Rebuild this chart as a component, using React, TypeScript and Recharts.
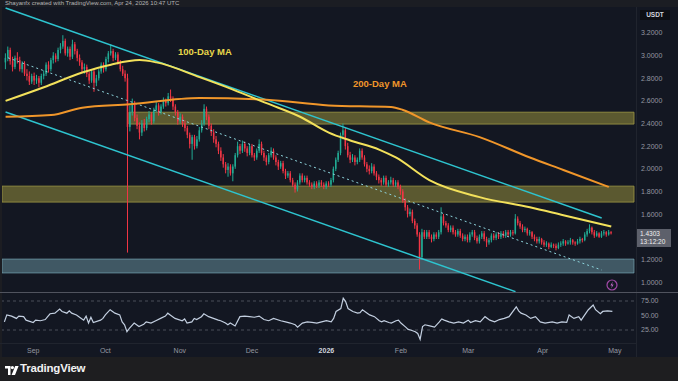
import React from "react";
import {
  ComposedChart, Bar, Line, XAxis, YAxis,
  ReferenceArea, ReferenceLine
} from "recharts";

// daily candles [open, high, low, close], first one is day -12 (day 0 = Sep 1)
const FIRST_DAY = -12;
const DAY_MIN = -13;
const DAY_MAX = 250;

const aug = [
  [2.94, 3.02, 2.88, 2.98], [2.98, 3.08, 2.95, 3.05], [3.05, 3.07, 2.92, 2.95], [2.95, 2.99, 2.86, 2.90],
  [2.90, 3.00, 2.88, 2.98], [2.98, 3.03, 2.93, 2.96], [2.96, 2.99, 2.86, 2.88], [2.88, 2.95, 2.85, 2.93],
  [2.93, 2.95, 2.82, 2.84], [2.84, 2.88, 2.78, 2.82], [2.82, 2.86, 2.74, 2.77], [2.77, 2.84, 2.75, 2.82],
];
const sep = [
  [2.82, 2.85, 2.74, 2.78], [2.78, 2.83, 2.75, 2.80], [2.80, 2.82, 2.72, 2.76], [2.76, 2.84, 2.74, 2.82],
  [2.82, 2.87, 2.79, 2.84], [2.84, 2.94, 2.82, 2.92], [2.92, 2.95, 2.85, 2.88], [2.88, 2.98, 2.86, 2.96],
  [2.96, 3.03, 2.93, 3.00], [3.00, 3.02, 2.94, 2.97], [2.97, 3.07, 2.95, 3.05], [3.05, 3.11, 3.02, 3.08],
  [3.08, 3.18, 3.06, 3.13], [3.13, 3.15, 3.00, 3.02], [3.02, 3.08, 2.99, 3.06], [3.06, 3.08, 2.96, 2.99],
  [2.99, 3.14, 2.97, 3.10], [3.10, 3.12, 3.01, 3.04], [3.04, 3.06, 2.95, 2.98], [2.98, 3.01, 2.91, 2.94],
  [2.94, 2.96, 2.85, 2.88], [2.88, 2.93, 2.84, 2.90], [2.90, 2.92, 2.81, 2.84], [2.84, 2.86, 2.75, 2.78],
  [2.78, 2.88, 2.76, 2.86], [2.86, 2.88, 2.68, 2.76], [2.76, 2.83, 2.73, 2.80], [2.80, 2.88, 2.78, 2.86],
  [2.86, 2.94, 2.84, 2.92], [2.92, 2.94, 2.85, 2.88],
];
const oct = [
  [2.88, 2.99, 2.86, 2.97], [2.97, 3.04, 2.94, 3.02], [3.02, 3.10, 3.00, 3.04], [3.04, 3.06, 2.95, 2.98],
  [2.98, 3.03, 2.96, 3.01], [3.01, 3.03, 2.92, 2.94], [2.94, 2.96, 2.86, 2.88], [2.88, 2.91, 2.82, 2.84],
  [2.84, 2.87, 2.77, 2.80], [2.80, 2.84, 1.26, 2.37], [2.37, 2.56, 2.33, 2.50], [2.50, 2.62, 2.47, 2.58],
  [2.58, 2.60, 2.42, 2.45], [2.45, 2.48, 2.35, 2.38], [2.38, 2.41, 2.26, 2.32], [2.32, 2.43, 2.29, 2.40],
  [2.40, 2.44, 2.33, 2.36], [2.36, 2.46, 2.34, 2.44], [2.44, 2.51, 2.41, 2.48], [2.48, 2.50, 2.39, 2.42],
  [2.42, 2.54, 2.40, 2.52], [2.52, 2.59, 2.50, 2.56], [2.56, 2.58, 2.47, 2.50], [2.50, 2.57, 2.48, 2.55],
  [2.55, 2.63, 2.53, 2.60], [2.60, 2.62, 2.55, 2.58], [2.58, 2.67, 2.56, 2.64], [2.64, 2.70, 2.59, 2.62],
  [2.62, 2.64, 2.52, 2.55], [2.55, 2.57, 2.47, 2.50], [2.50, 2.52, 2.39, 2.42],
];
const nov = [
  [2.42, 2.49, 2.40, 2.46], [2.46, 2.48, 2.37, 2.40], [2.40, 2.43, 2.33, 2.36], [2.36, 2.38, 2.27, 2.30],
  [2.30, 2.32, 2.18, 2.22], [2.22, 2.30, 2.08, 2.28], [2.28, 2.30, 2.17, 2.20], [2.20, 2.29, 2.18, 2.26],
  [2.26, 2.37, 2.24, 2.34], [2.34, 2.43, 2.32, 2.40], [2.40, 2.57, 2.38, 2.53], [2.53, 2.55, 2.43, 2.46],
  [2.46, 2.48, 2.35, 2.38], [2.38, 2.40, 2.29, 2.32], [2.32, 2.35, 2.23, 2.26], [2.26, 2.29, 2.19, 2.22],
  [2.22, 2.24, 2.13, 2.16], [2.16, 2.19, 2.07, 2.10], [2.10, 2.13, 2.01, 2.04], [2.04, 2.06, 1.96, 1.99],
  [1.99, 2.05, 1.93, 2.02], [2.02, 2.04, 1.94, 1.96], [1.96, 2.04, 1.89, 2.02], [2.02, 2.14, 2.00, 2.12],
  [2.12, 2.24, 2.10, 2.20], [2.20, 2.22, 2.13, 2.16], [2.16, 2.25, 2.14, 2.22], [2.22, 2.24, 2.15, 2.18],
  [2.18, 2.20, 2.11, 2.14], [2.14, 2.22, 2.12, 2.20],
];
const dec = [
  [2.20, 2.22, 2.10, 2.12], [2.12, 2.14, 2.07, 2.10], [2.10, 2.18, 2.08, 2.16], [2.16, 2.26, 2.14, 2.22],
  [2.22, 2.24, 2.12, 2.14], [2.14, 2.16, 2.07, 2.10], [2.10, 2.12, 2.03, 2.06], [2.06, 2.14, 2.04, 2.12],
  [2.12, 2.19, 2.10, 2.16], [2.16, 2.18, 2.08, 2.10], [2.10, 2.12, 2.03, 2.06], [2.06, 2.08, 1.99, 2.02],
  [2.02, 2.07, 2.00, 2.05], [2.05, 2.07, 1.96, 1.98], [1.98, 2.00, 1.91, 1.94], [1.94, 1.98, 1.92, 1.96],
  [1.96, 1.98, 1.88, 1.90], [1.90, 1.92, 1.84, 1.86], [1.86, 1.88, 1.79, 1.82], [1.82, 1.90, 1.80, 1.88],
  [1.88, 1.96, 1.86, 1.94], [1.94, 1.96, 1.88, 1.90], [1.90, 1.94, 1.88, 1.92], [1.92, 1.94, 1.86, 1.88],
  [1.88, 1.90, 1.84, 1.86], [1.86, 1.88, 1.82, 1.84], [1.84, 1.89, 1.82, 1.87], [1.87, 1.89, 1.83, 1.85],
  [1.85, 1.90, 1.83, 1.88], [1.88, 1.90, 1.84, 1.86], [1.86, 1.88, 1.82, 1.84],
];
const jan = [
  [1.84, 1.89, 1.82, 1.87], [1.87, 1.89, 1.84, 1.86], [1.86, 1.92, 1.84, 1.90], [1.90, 2.02, 1.88, 2.00],
  [2.00, 2.10, 1.98, 2.08], [2.08, 2.16, 2.06, 2.14], [2.14, 2.32, 2.12, 2.30], [2.30, 2.40, 2.26, 2.34],
  [2.34, 2.36, 2.17, 2.20], [2.20, 2.23, 2.10, 2.12], [2.12, 2.15, 2.05, 2.08], [2.08, 2.13, 2.06, 2.10],
  [2.10, 2.12, 2.03, 2.06], [2.06, 2.10, 2.04, 2.08], [2.08, 2.18, 2.06, 2.16], [2.16, 2.18, 2.08, 2.10],
  [2.10, 2.12, 2.02, 2.04], [2.04, 2.06, 1.97, 2.00], [2.00, 2.03, 1.95, 1.98], [1.98, 2.05, 1.96, 2.02],
  [2.02, 2.04, 1.94, 1.96], [1.96, 1.98, 1.90, 1.93], [1.93, 1.95, 1.87, 1.90], [1.90, 1.92, 1.85, 1.88],
  [1.88, 1.94, 1.86, 1.92], [1.92, 1.94, 1.84, 1.86], [1.86, 1.90, 1.84, 1.88], [1.88, 1.93, 1.86, 1.90],
  [1.90, 1.92, 1.84, 1.86], [1.86, 1.90, 1.84, 1.88], [1.88, 1.90, 1.82, 1.84],
];
const feb = [
  [1.84, 1.86, 1.77, 1.80], [1.80, 1.82, 1.70, 1.72], [1.72, 1.74, 1.63, 1.66], [1.66, 1.68, 1.57, 1.60],
  [1.60, 1.65, 1.58, 1.62], [1.62, 1.64, 1.52, 1.54], [1.54, 1.56, 1.47, 1.50], [1.50, 1.52, 1.40, 1.42],
  [1.42, 1.44, 1.11, 1.22], [1.22, 1.47, 1.20, 1.44], [1.44, 1.46, 1.38, 1.40], [1.40, 1.46, 1.38, 1.44],
  [1.44, 1.46, 1.38, 1.40], [1.40, 1.42, 1.35, 1.38], [1.38, 1.44, 1.36, 1.42], [1.42, 1.44, 1.38, 1.40],
  [1.40, 1.46, 1.38, 1.44], [1.44, 1.66, 1.42, 1.58], [1.58, 1.60, 1.50, 1.52], [1.52, 1.54, 1.48, 1.50],
  [1.50, 1.52, 1.44, 1.46], [1.46, 1.50, 1.44, 1.48], [1.48, 1.50, 1.42, 1.44], [1.44, 1.46, 1.40, 1.42],
  [1.42, 1.47, 1.40, 1.45], [1.45, 1.47, 1.39, 1.41], [1.41, 1.43, 1.36, 1.38], [1.38, 1.42, 1.36, 1.40],
];
const mar = [
  [1.40, 1.42, 1.35, 1.37], [1.37, 1.44, 1.35, 1.42], [1.42, 1.46, 1.40, 1.44], [1.44, 1.46, 1.37, 1.39],
  [1.39, 1.41, 1.34, 1.36], [1.36, 1.42, 1.34, 1.40], [1.40, 1.45, 1.38, 1.43], [1.43, 1.45, 1.36, 1.38],
  [1.38, 1.40, 1.31, 1.35], [1.35, 1.39, 1.33, 1.37], [1.37, 1.43, 1.35, 1.41], [1.41, 1.43, 1.37, 1.39],
  [1.39, 1.44, 1.37, 1.42], [1.42, 1.44, 1.38, 1.40], [1.40, 1.45, 1.38, 1.43], [1.43, 1.45, 1.39, 1.41],
  [1.41, 1.46, 1.39, 1.44], [1.44, 1.46, 1.40, 1.42], [1.42, 1.46, 1.40, 1.44], [1.44, 1.46, 1.41, 1.43],
  [1.43, 1.60, 1.42, 1.56], [1.56, 1.58, 1.50, 1.52], [1.52, 1.54, 1.47, 1.49], [1.49, 1.51, 1.44, 1.46],
  [1.46, 1.49, 1.44, 1.47], [1.47, 1.48, 1.41, 1.43], [1.43, 1.46, 1.41, 1.44], [1.44, 1.45, 1.38, 1.40],
  [1.40, 1.42, 1.36, 1.38], [1.38, 1.40, 1.34, 1.36], [1.36, 1.40, 1.34, 1.38],
];
const apr = [
  [1.38, 1.39, 1.33, 1.35], [1.35, 1.37, 1.31, 1.33], [1.33, 1.36, 1.31, 1.34], [1.34, 1.35, 1.29, 1.31],
  [1.31, 1.35, 1.30, 1.33], [1.33, 1.34, 1.30, 1.32], [1.32, 1.34, 1.28, 1.30], [1.30, 1.35, 1.29, 1.33],
  [1.33, 1.36, 1.31, 1.34], [1.34, 1.38, 1.32, 1.36], [1.36, 1.37, 1.32, 1.34], [1.34, 1.37, 1.33, 1.35],
  [1.35, 1.39, 1.33, 1.37], [1.37, 1.38, 1.33, 1.35], [1.35, 1.36, 1.32, 1.34], [1.34, 1.38, 1.33, 1.36],
  [1.36, 1.40, 1.34, 1.38], [1.38, 1.39, 1.35, 1.37], [1.37, 1.44, 1.36, 1.42], [1.42, 1.47, 1.40, 1.45],
  [1.45, 1.51, 1.43, 1.48], [1.48, 1.49, 1.42, 1.44], [1.44, 1.46, 1.39, 1.41], [1.41, 1.45, 1.40, 1.43],
  [1.43, 1.44, 1.39, 1.40], [1.40, 1.45, 1.39, 1.43], [1.43, 1.46, 1.41, 1.44], [1.44, 1.45, 1.40, 1.42],
  [1.42, 1.46, 1.41, 1.44], [1.44, 1.45, 1.42, 1.4303],
];

// moving averages: [day, value]
const ma100Pts = [
  [-12, 2.6], [4, 2.72], [20, 2.85], [32, 2.92], [44, 2.96], [51, 2.94], [69, 2.81], [83, 2.7],
  [97, 2.58], [111, 2.46], [123, 2.32], [132, 2.25], [144, 2.17], [151, 2.1], [165, 1.9],
  [186, 1.75], [207, 1.66], [221, 1.59], [241, 1.49],
];
const ma200Pts = [
  [-12, 2.46], [7, 2.475], [20, 2.54], [40, 2.57], [69, 2.625], [97, 2.61], [123, 2.56],
  [149, 2.546], [154, 2.52], [165, 2.41], [186, 2.28], [207, 2.1], [221, 1.99], [240, 1.84],
];

// RSI(14): [day, value]
const rsiPts = [
  [-12, 39], [-11, 51], [-9, 49], [-7, 45], [-6, 49], [-4, 48], [-3, 42], [0, 38], [1, 42], [3, 41],
  [5, 43], [6, 48], [7, 53], [9, 54], [11, 61], [12, 57], [14, 54], [15, 58], [16, 54], [18, 51],
  [20, 45], [21, 42], [22, 49], [23, 37], [24, 47], [25, 38], [28, 42], [29, 45], [30, 51], [32, 60],
  [33, 57], [34, 54], [36, 51], [37, 39], [38, 34], [39, 22], [40, 28], [42, 37], [44, 31], [46, 35],
  [47, 39], [49, 37], [51, 41], [53, 45], [55, 49], [56, 54], [57, 51], [59, 45], [62, 41], [63, 44],
  [64, 37], [66, 39], [67, 45], [68, 43], [70, 48], [71, 53], [73, 48], [75, 45], [77, 42], [78, 41],
  [80, 37], [81, 34], [82, 37], [84, 32], [86, 48], [88, 49], [90, 48], [92, 47], [94, 49], [96, 43],
  [98, 41], [100, 45], [103, 41], [105, 39], [107, 37], [109, 34], [110, 30], [112, 37], [114, 39],
  [116, 38], [118, 37], [120, 39], [122, 41], [124, 39], [125, 45], [126, 57], [128, 62], [129, 80],
  [130, 74], [131, 62], [133, 57], [135, 54], [136, 55], [137, 60], [139, 54], [140, 51], [142, 48],
  [144, 41], [145, 39], [146, 41], [148, 38], [149, 37], [151, 41], [152, 42], [153, 37], [155, 30],
  [156, 26], [157, 25], [159, 22], [160, 19], [161, 9], [162, 31], [163, 34], [165, 32], [167, 30],
  [169, 39], [170, 44], [171, 42], [173, 39], [175, 37], [177, 39], [179, 37], [181, 42], [182, 38],
  [184, 41], [186, 39], [188, 48], [190, 42], [192, 39], [194, 43], [196, 45], [198, 48], [201, 65],
  [202, 58], [203, 54], [205, 51], [207, 45], [209, 48], [211, 39], [213, 37], [216, 39], [218, 37],
  [220, 39], [222, 38], [223, 51], [225, 45], [227, 48], [228, 42], [230, 54], [231, 60], [233, 68],
  [234, 60], [236, 53], [237, 57], [239, 58], [241, 57],
];

// 1.4000 sits under the last-price label, so it is not drawn
const priceTicks = [1, 1.2, 1.6, 1.8, 2, 2.2, 2.4, 2.6, 2.8, 3, 3.2];
const rsiTicks = [25, 50, 75];
const monthTicks = [0, 30, 61, 91, 122, 153, 181, 212, 242];
const monthLabels = ["Sep", "Oct", "Nov", "Dec", "2026", "Feb", "Mar", "Apr", "May"];

const candles = [...aug, ...sep, ...oct, ...nov, ...dec, ...jan, ...feb, ...mar, ...apr];

const rows: any[] = [];
for (let d = DAY_MIN; d <= DAY_MAX; d++) rows.push({ d });
candles.forEach(([o, h, l, c], i) => Object.assign(rows[i + FIRST_DAY - DAY_MIN], { o, h, l, c }));
ma100Pts.forEach(([d, v]) => (rows[d - DAY_MIN].ma100 = v));
ma200Pts.forEach(([d, v]) => (rows[d - DAY_MIN].ma200 = v));
rsiPts.forEach(([d, v]) => (rows[d - DAY_MIN].rsi = v));

const BG = "#131722";
const UP = "#22ab94";
const DOWN = "#f23645";
const CYAN = "#2ec4cf";
const AXIS_TXT = "#9598a1";
const FONT = "'Liberation Sans', Arial, sans-serif";

const Candle = (props: any) => {
  const { x, y, width, height, payload } = props;
  if (!payload || payload.h == null || isNaN(y)) return null;
  const { o, h, l, c } = payload;
  const top = Math.min(y, y + height);
  const hh = Math.abs(height);
  const py = (p: number) => top + ((h - p) / (h - l)) * hh;
  const color = c >= o ? UP : DOWN;
  const cx = x + width / 2;
  const bw = Math.max(1.4, width * 0.75);
  const bTop = py(Math.max(o, c));
  const bH = Math.max(0.8, py(Math.min(o, c)) - bTop);
  return (
    <g>
      <line x1={cx} x2={cx} y1={top} y2={top + hh} stroke={color} strokeWidth={1} />
      <rect x={cx - bw / 2} y={bTop} width={bw} height={bH} fill={color} />
    </g>
  );
};

const MonthTick = (props: any) => {
  const { x, y, payload } = props;
  const label = monthLabels[monthTicks.indexOf(payload.value)] ?? "";
  const bold = label === "2026";
  return (
    <text x={x} y={y} dy={9.5} textAnchor="middle" fontSize={7} fontFamily={FONT}
      fill={bold ? "#d1d4dc" : AXIS_TXT} fontWeight={bold ? 700 : 400}>
      {label}
    </text>
  );
};

const abs = (s: any): React.CSSProperties => ({ position: "absolute", ...s });

export default function App() {
  return (
    <div style={{ position: "fixed", left: 0, top: 0, width: 678, height: 381, background: BG, overflow: "hidden", fontFamily: FONT }}>
      <div style={abs({ left: 0, top: 0 })}>
        <ComposedChart width={678} height={292} data={rows} barCategoryGap={0} barGap={0}
          margin={{ top: 6, right: 0, bottom: 0, left: 2 }}>
          <XAxis dataKey="d" type="category" hide />
          <YAxis orientation="right" type="number" width={44} domain={[0.912, 3.438]} allowDataOverflow
            ticks={priceTicks} tickFormatter={(v: number) => v.toFixed(4)}
            tick={{ fill: AXIS_TXT, fontSize: 7, fontFamily: FONT }}
            axisLine={false} tickLine={false} tickSize={0} tickMargin={7} />
          <ReferenceArea x1={40} x2={DAY_MAX} y1={2.395} y2={2.5} fill="#c8be46" fillOpacity={0.4} stroke="#a09a45" strokeOpacity={0.8} />
          <ReferenceArea x1={DAY_MIN} x2={DAY_MAX} y1={1.706} y2={1.847} fill="#c8be46" fillOpacity={0.4} stroke="#a09a45" strokeOpacity={0.8} />
          <ReferenceArea x1={DAY_MIN} x2={DAY_MAX} y1={1.08} y2={1.203} fill="#7fb3c0" fillOpacity={0.42} stroke="#7fb3c0" strokeOpacity={0.6} />
          <ReferenceLine segment={[{ x: -12, y: 3.42 }, { x: 237, y: 1.565 }]} stroke={CYAN} strokeWidth={1.5} />
          <ReferenceLine segment={[{ x: -12, y: 2.502 }, { x: 201, y: 0.915 }]} stroke={CYAN} strokeWidth={1.5} />
          <ReferenceLine segment={[{ x: -11, y: 2.98 }, { x: 237, y: 1.106 }]} stroke="#8fd6de" strokeWidth={1} strokeDasharray="2 3" />
          <Line dataKey="ma200" type="monotone" stroke="#f0962a" strokeWidth={2} dot={false} connectNulls isAnimationActive={false} />
          <Line dataKey="ma100" type="monotone" stroke="#f3e15b" strokeWidth={2} dot={false} connectNulls isAnimationActive={false} />
          <Bar dataKey={(r: any) => (r.h == null ? null : [r.l, r.h])} shape={Candle} isAnimationActive={false} />
        </ComposedChart>
      </div>

      <div style={abs({ left: 0, top: 293 })}>
        <ComposedChart width={678} height={64} data={rows} margin={{ top: 0, right: 0, bottom: 0, left: 2 }}>
          <XAxis dataKey="d" type="category" ticks={monthTicks} interval={0} tick={<MonthTick />}
            axisLine={false} tickLine={false} tickSize={0} tickMargin={0} height={14} />
          <YAxis orientation="right" type="number" width={44} domain={[2.6, 88.8]} allowDataOverflow
            ticks={rsiTicks} tickFormatter={(v: number) => v.toFixed(2)}
            tick={{ fill: AXIS_TXT, fontSize: 7, fontFamily: FONT }}
            axisLine={false} tickLine={false} tickSize={0} tickMargin={7} />
          <ReferenceLine y={75} stroke="#4a4e59" strokeDasharray="3 3" />
          <ReferenceLine y={25} stroke="#4a4e59" strokeDasharray="3 3" />
          <Line dataKey="rsi" type="linear" stroke="#c3cfe0" strokeWidth={1.2} dot={false} connectNulls isAnimationActive={false} />
        </ComposedChart>
      </div>

      {/* frame pieces */}
      <div style={abs({ left: 0, top: 0, width: 678, height: 7, background: "#1b1d23", overflow: "hidden" })}>
        <div style={abs({ left: 5, top: 0, fontSize: 6, lineHeight: "6px", color: "#b5b5b5", whiteSpace: "nowrap" })}>
          Shayanfx created with TradingView.com, Apr 24, 2026 10:47 UTC
        </div>
      </div>
      <div style={abs({ left: 0, top: 7, width: 2, height: 350, background: "#1c1d22" })} />
      <div style={abs({ left: 636, top: 7, width: 1, height: 350, background: "#20242e" })} />
      <div style={abs({ left: 0, top: 291.5, width: 678, height: 1.5, background: "#50535e" })} />
      <div style={abs({ left: 0, top: 343, width: 636, height: 1, background: "#20242e" })} />

      <div style={abs({ left: 640, top: 10, width: 30, height: 10, background: "#0c0e13", color: "#d1d4dc", fontSize: 6.5, fontWeight: 700, lineHeight: "10px", textAlign: "center" })}>
        USDT
      </div>
      <div style={abs({ left: 637, top: 229, width: 34, height: 18, background: "#5d606b", color: "#f0f0f0", fontSize: 6.5, lineHeight: "8px", paddingLeft: 3, boxSizing: "border-box", paddingTop: 1 })}>
        <div>1.4303</div>
        <div>13:12:20</div>
      </div>

      <div style={abs({ left: 178, top: 46, fontSize: 9.5, fontWeight: 700, color: "#e8d84a", whiteSpace: "nowrap" })}>100-Day MA</div>
      <div style={abs({ left: 353, top: 78, fontSize: 9.5, fontWeight: 700, color: "#f0962a", whiteSpace: "nowrap" })}>200-Day MA</div>

      <svg style={abs({ left: 606, top: 279 })} width={12} height={12}>
        <circle cx={6} cy={6} r={5} fill="none" stroke="#a24aa8" strokeWidth={1.2} />
        <path d="M6.8 2.6 L4.4 6.4 L6 6.4 L5.2 9.4 L7.6 5.6 L6 5.6 Z" fill="#c06ac6" />
      </svg>

      <div style={abs({ left: 0, top: 357, width: 678, height: 24, background: "#1e1e20" })}>
        <svg style={abs({ left: 5, top: 9 })} width={14} height={9}>
          <path d="M0 0 H5.5 V9 H3 V2.6 H0 Z" fill="#ffffff" />
          <circle cx={7.4} cy={1.6} r={1.6} fill="#ffffff" />
          <path d="M10.2 0 H13.6 L10 9 H6.6 Z" fill="#ffffff" />
        </svg>
        <div style={abs({ left: 20, top: 5, fontSize: 11.5, fontWeight: 600, color: "#f2f2f2", letterSpacing: -0.2 })}>TradingView</div>
      </div>
    </div>
  );
}
